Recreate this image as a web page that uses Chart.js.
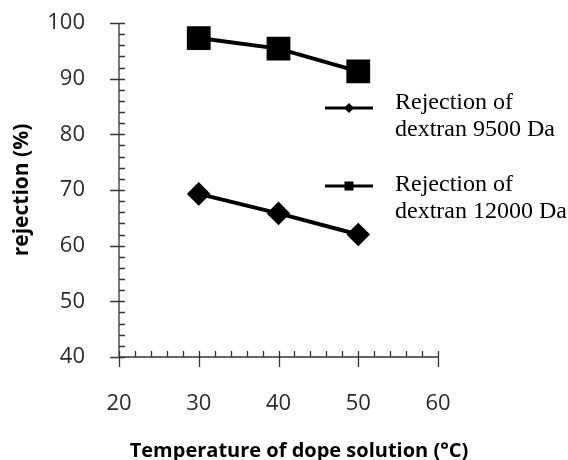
<!DOCTYPE html>
<html lang="en">
<head>
    <meta charset="UTF-8">
    <title>Rejection vs temperature</title>
    <script src="https://cdn.jsdelivr.net/npm/chart.js"></script>
    <style>
        body { margin: 0; background: #fff; }
        #wrap { width: 568px; height: 460px; }
    </style>
</head>
<body>
<div id="wrap"><canvas id="rejChart" width="568" height="460"></canvas></div>
<script>
    // data
    const temperatures = [30, 40, 50];
    const rejection9500 = [69.3, 65.8, 62.0];
    const rejection12000 = [97.3, 95.4, 91.3];
    const seriesLabels = [
        ['Rejection of', 'dextran 9500 Da'],
        ['Rejection of', 'dextran 12000 Da']
    ];
    const xTicks = [20, 30, 40, 50, 60];
    const yTicks = [40, 50, 60, 70, 80, 90, 100];
    const xTitle = 'Temperature of dope solution (°C)';

    const tickFont = { family: 'Open Sans', size: 22 };

    // axis lines with crossing major ticks and inner minor ticks
    const axisPlugin = {
        id: 'axisTicks',
        afterDraw(chart) {
            const ctx = chart.ctx;
            const xs = chart.scales.x, ys = chart.scales.y;
            const x0 = xs.getPixelForValue(xs.min), y0 = ys.getPixelForValue(ys.min);
            ctx.save();
            ctx.strokeStyle = '#333';
            ctx.lineWidth = 1.3;
            ctx.beginPath();
            ctx.moveTo(x0, ys.getPixelForValue(ys.max));
            ctx.lineTo(x0, y0);
            ctx.lineTo(xs.getPixelForValue(xs.max), y0);
            for (let v = ys.min; v <= ys.max; v += 2) {
                const py = Math.round(ys.getPixelForValue(v)) + 0.5;
                const major = v % 10 === 0;
                ctx.moveTo(major ? x0 - 9 : x0, py);
                ctx.lineTo(x0 + 6, py);
            }
            for (let v = xs.min; v <= xs.max; v += 2) {
                const px = Math.round(xs.getPixelForValue(v)) + 0.5;
                const major = v % 10 === 0;
                ctx.moveTo(px, y0 - 6);
                ctx.lineTo(px, major ? y0 + 10 : y0);
            }
            ctx.stroke();

            // x title sits a bit right of the axis centre in the original
            ctx.fillStyle = '#000';
            ctx.font = 'bold 20px "Open Sans"';
            ctx.textAlign = 'center';
            ctx.textBaseline = 'alphabetic';
            ctx.fillText(xTitle, 299, 457);
            ctx.restore();
        }
    };

    // legend to the right, two-line labels
    const legendPlugin = {
        id: 'sideLegend',
        afterDraw(chart) {
            const ctx = chart.ctx;
            const rows = [{ line: 108, base: 109 }, { line: 186, base: 191 }];
            ctx.save();
            chart.data.datasets.forEach((ds, i) => {
                const y = rows[i].line;
                ctx.strokeStyle = '#000';
                ctx.lineWidth = 3;
                ctx.beginPath();
                ctx.moveTo(325, y);
                ctx.lineTo(373, y);
                ctx.stroke();
                ctx.fillStyle = '#000';
                ctx.beginPath();
                if (ds.pointStyle === 'rectRot') {
                    ctx.moveTo(349, y - 5);
                    ctx.lineTo(354, y);
                    ctx.lineTo(349, y + 5);
                    ctx.lineTo(344, y);
                } else {
                    ctx.rect(344.5, y - 4.5, 9, 9);
                }
                ctx.fill();
                ctx.font = '24px "Liberation Serif"';
                ctx.textBaseline = 'alphabetic';
                ctx.fillText(ds.label[0], 395, rows[i].base);
                ctx.fillText(ds.label[1], 395, rows[i].base + 27);
            });
            ctx.restore();
        }
    };

    new Chart(document.getElementById('rejChart'), {
        type: 'line',
        data: {
            datasets: [
                {
                    label: seriesLabels[0],
                    data: temperatures.map((t, i) => ({ x: t, y: rejection9500[i] })),
                    borderColor: '#000',
                    backgroundColor: '#000',
                    borderWidth: 4,
                    pointStyle: 'rectRot',
                    pointRadius: 9,
                    tension: 0
                },
                {
                    label: seriesLabels[1],
                    data: temperatures.map((t, i) => ({ x: t, y: rejection12000[i] })),
                    borderColor: '#000',
                    backgroundColor: '#000',
                    borderWidth: 4,
                    pointStyle: 'rect',
                    pointRadius: 14,
                    tension: 0
                }
            ]
        },
        options: {
            responsive: false,
            animation: false,
            layout: { padding: { top: 23, right: 130, left: 0, bottom: 0 } },
            plugins: { legend: { display: false }, tooltip: { enabled: false } },
            scales: {
                x: {
                    type: 'linear',
                    min: 20, max: 60,
                    afterBuildTicks: s => { s.ticks = xTicks.map(v => ({ value: v })); },
                    afterFit: s => { s.height = 103; s.paddingLeft = 0; s.paddingRight = 0; },
                    grid: { display: false },
                    border: { display: false },
                    ticks: { font: tickFont, color: '#2b2b2b', padding: 26, maxRotation: 0 }
                },
                y: {
                    min: 40, max: 100,
                    afterBuildTicks: s => { s.ticks = yTicks.map(v => ({ value: v })); },
                    afterFit: s => { s.width = 119; s.paddingTop = 0; s.paddingBottom = 0; },
                    grid: { display: false },
                    border: { display: false },
                    ticks: { font: tickFont, color: '#2b2b2b', padding: 26 },
                    title: {
                        display: true,
                        text: 'rejection (%)',
                        font: { family: 'Open Sans', size: 21, weight: 'bold' },
                        color: '#000',
                        padding: { top: 9, bottom: 0 }
                    }
                }
            }
        },
        plugins: [axisPlugin, legendPlugin]
    });
</script>
</body>
</html>
